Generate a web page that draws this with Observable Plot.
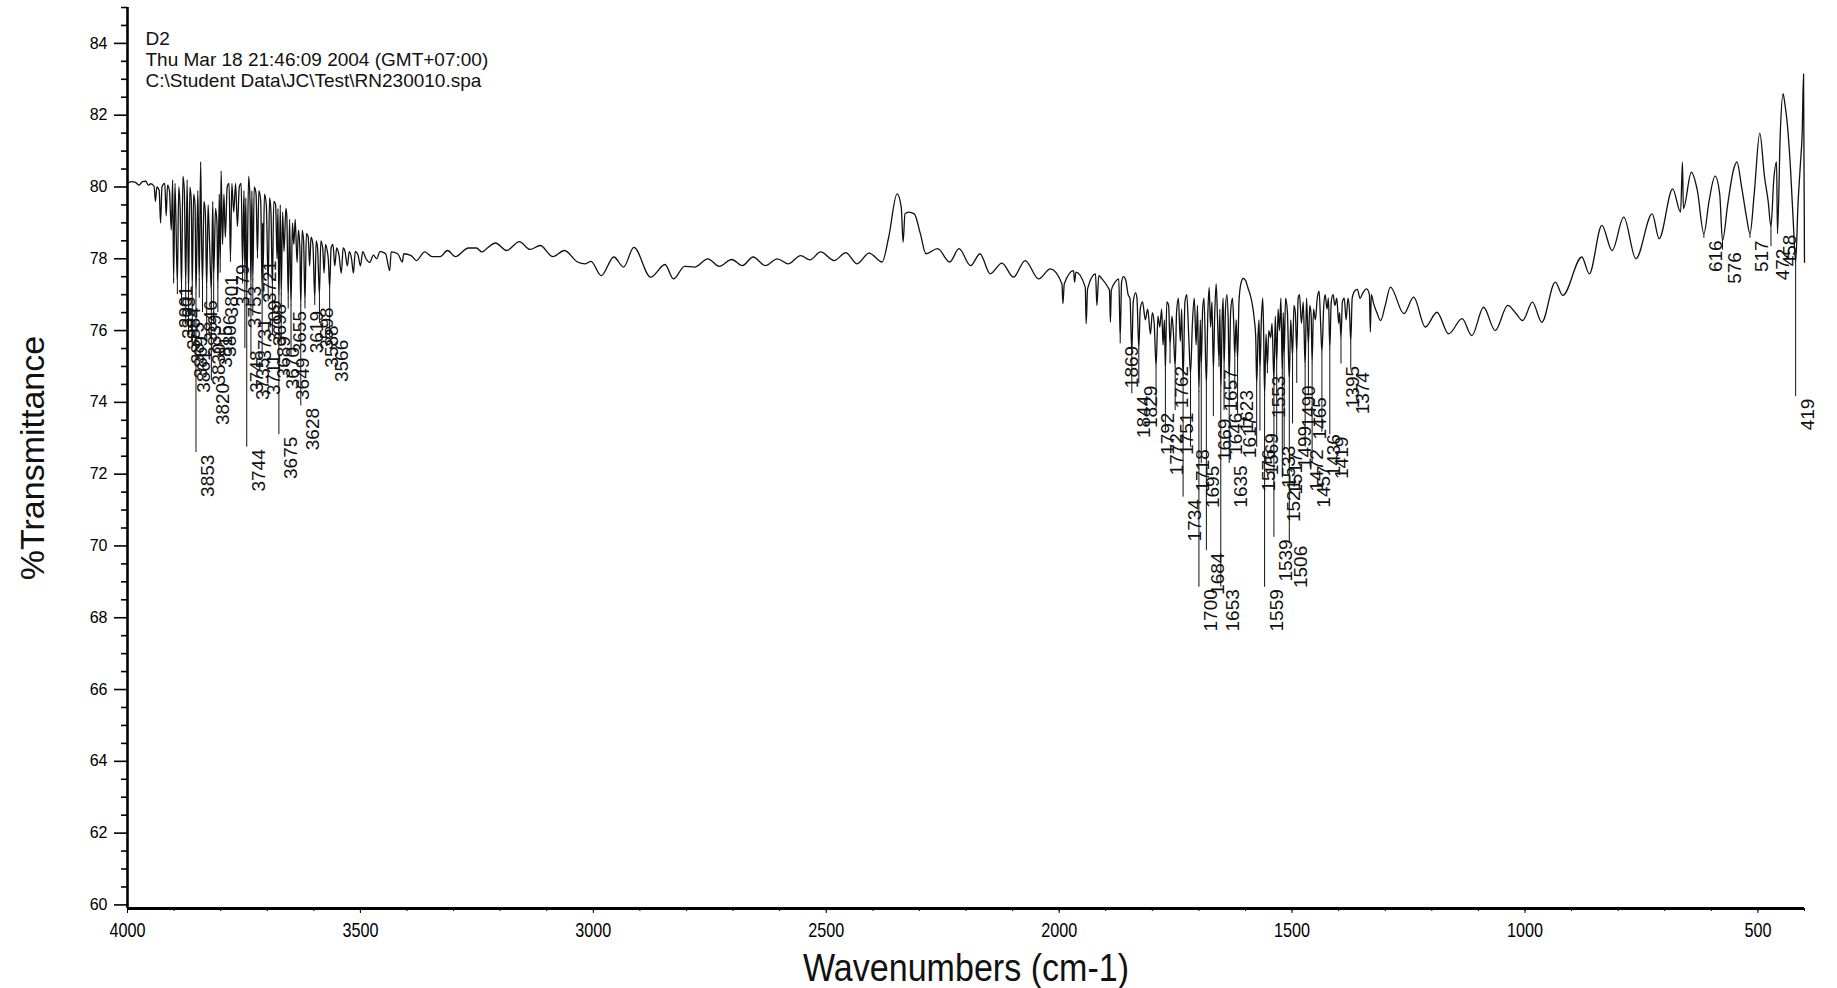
<!DOCTYPE html>
<html><head><meta charset="utf-8">
<script src="https://cdn.jsdelivr.net/npm/d3@7"></script>
<script src="https://cdn.jsdelivr.net/npm/@observablehq/plot@0.6"></script>
<style>html,body{margin:0;padding:0;background:#fff;}</style>
</head><body><div id="chart"></div>
<script>
// ---- Spectrum (wavenumber cm-1, %T) ----
const specWn = [4000,3992,3983,3975,3968,3961,3955,3950,3943,3940,3937,3932,3929,3926,3920,3917,3914,3910,3906,3903,3901,3898,3893,3890,3887,3884,3881,3878,3875,3872,3869,3866,3863,3861,3858,3855,3853,3849,3846,3843,3841,3839,3836,3833,3830,3827,3824,3820,3817,3815,3811,3808,3806,3803,3801,3799,3796,3793,3790,3786,3782,3779,3776,3772,3768,3764,3760,3756,3753,3750,3748,3746,3744,3740,3737,3735,3733,3731,3728,3724,3721,3718,3714,3711,3710,3709,3706,3702,3698,3695,3692,3689,3686,3682,3679,3677,3675,3672,3670,3667,3664,3660,3658,3655,3652,3649,3646,3643,3640,3636,3633,3630,3628,3625,3622,3619,3616,3612,3609,3606,3602,3598,3595,3592,3588,3585,3581,3578,3575,3571,3569,3566,3563,3559,3555,3551,3546,3541,3537,3533,3528,3524,3519,3515,3511,3505,3500,3495,3488,3480,3472,3465,3458,3453,3446,3437,3434,3420,3410,3407,3391,3380,3362,3346,3329,3313,3296,3268,3251,3239,3231,3210,3186,3159,3136,3114,3087,3062,3034,3017,3005,2983,2956,2935,2913,2877,2846,2828,2804,2783,2754,2730,2703,2680,2657,2631,2605,2582,2555,2535,2512,2483,2458,2434,2408,2380,2366,2348,2339,2335,2331,2323,2311,2298,2286,2261,2235,2215,2190,2170,2148,2123,2098,2073,2044,2019,1994,1992,1989,1969,1967,1964,1944,1942,1939,1922,1919,1915,1908,1895,1892,1890,1888,1880,1872,1869,1866,1862,1857,1852,1848,1844,1841,1836,1833,1829,1826,1821,1815,1810,1804,1800,1796,1792,1788,1784,1780,1777,1774,1772,1769,1765,1762,1758,1755,1751,1748,1744,1740,1737,1734,1730,1726,1722,1718,1714,1710,1706,1703,1700,1697,1695,1692,1689,1684,1681,1678,1675,1672,1669,1666,1663,1660,1657,1655,1653,1650,1648,1646,1643,1640,1637,1635,1632,1628,1625,1623,1620,1617,1614,1610,1605,1600,1595,1590,1585,1581,1578,1576,1573,1571,1569,1566,1563,1561,1559,1556,1553,1550,1546,1543,1539,1536,1533,1530,1527,1524,1521,1519,1517,1514,1510,1506,1503,1499,1496,1493,1490,1487,1484,1480,1476,1472,1469,1465,1462,1459,1457,1454,1450,1446,1442,1439,1436,1432,1429,1425,1422,1419,1416,1412,1408,1404,1400,1398,1395,1392,1388,1384,1380,1377,1374,1371,1366,1360,1354,1348,1340,1334,1332,1330,1325,1318,1310,1300,1289,1260,1239,1214,1189,1164,1135,1114,1089,1064,1037,1019,1005,984,964,935,919,878,862,835,813,788,762,727,712,683,666,662,660,643,630,616,605,592,582,576,565,552,545,535,525,517,508,496,486,478,472,466,460,458,452,446,442,438,430,424,419,414,409,405,402,400];
const specT = [80.1,80.15,80.13,80.05,80.15,80.16,80.05,80.09,80.02,79.6,80.0,79.9,79.0,80.0,80.1,79.2,80.05,79.9,78.8,80.2,77.4,80.1,77.3,80.0,79.4,77.2,80.3,79.9,77.3,80.2,77.1,80.0,79.6,77.2,79.8,79.5,77.0,79.9,77.4,80.7,78.6,77.3,79.6,79.3,77.2,79.5,78.5,77.1,79.6,77.5,79.4,79.0,77.2,79.8,77.8,80.45,78.4,79.8,78.6,80.0,80.1,78.0,80.1,79.3,80.1,78.9,80.0,80.1,77.8,79.9,77.6,79.7,77.0,80.3,79.6,77.2,79.9,77.4,80.0,79.8,78.1,79.9,79.6,77.1,79.0,77.6,79.8,79.5,77.3,79.7,79.3,77.2,79.6,79.5,78.0,79.4,76.8,79.5,77.0,79.3,78.2,79.4,79.2,76.9,79.1,76.7,79.0,78.4,79.1,77.9,78.8,78.3,76.7,78.8,78.5,76.8,78.7,78.6,77.8,78.6,78.4,76.9,78.5,78.3,77.0,78.5,78.3,77.6,78.4,78.2,78.0,77.2,78.3,78.4,77.8,78.3,78.1,77.6,78.3,78.2,77.8,78.2,78.0,77.6,78.2,78.1,77.8,78.2,78.0,77.9,78.1,78.0,78.2,78.19,78.14,77.67,78.19,78.14,77.91,78.14,78.09,77.95,78.19,78.06,78.06,78.23,78.06,78.3,78.3,78.19,78.26,78.44,78.23,78.48,78.26,78.37,78.06,78.23,77.91,77.86,77.93,77.53,78.05,77.77,78.32,77.49,77.84,77.44,77.79,77.77,78.0,77.79,77.98,77.81,78.05,77.81,78.0,77.86,78.09,77.97,78.19,77.95,78.17,77.86,78.16,77.91,78.6,79.81,79.44,78.46,79.25,79.3,79.25,78.7,78.14,78.28,77.91,78.28,77.81,78.14,77.58,77.88,77.49,77.95,77.44,77.72,77.3,76.75,77.3,77.67,77.35,77.63,77.21,76.19,77.16,77.58,76.7,77.53,77.44,77.2,77.12,76.24,77.12,77.35,77.44,75.8,77.35,77.5,77.4,77.0,76.9,75.4,76.8,77.05,76.9,75.5,76.6,76.8,76.3,76.6,75.9,76.5,76.2,75.0,76.4,76.1,76.6,75.6,76.3,74.9,76.8,76.7,75.6,76.4,76.0,75.0,76.5,76.9,75.7,76.6,74.6,76.8,77.0,75.9,74.8,76.2,76.9,75.6,76.7,74.3,76.3,75.0,76.6,76.9,74.5,76.4,77.2,76.1,76.8,74.9,76.5,77.3,76.3,75.2,76.6,74.3,76.4,76.9,75.0,76.6,77.0,76.2,74.6,76.5,76.9,76.1,75.3,76.3,75.2,76.8,77.3,77.45,77.4,77.2,77.0,76.7,76.3,75.8,74.5,75.9,76.3,74.9,76.3,76.9,75.9,74.2,75.9,75.0,76.0,75.8,76.2,74.6,76.4,75.1,76.6,76.0,76.9,74.8,76.5,75.3,76.9,76.5,74.6,76.3,75.3,76.7,76.5,75.4,76.9,77.0,76.2,76.8,75.0,76.9,75.6,76.7,76.4,75.1,76.6,76.3,76.9,77.1,76.3,75.4,76.7,77.0,76.6,76.9,75.5,76.8,77.0,76.7,76.9,76.2,76.5,75.8,76.8,76.9,76.3,76.9,76.6,75.7,76.9,77.1,77.15,76.9,77.05,77.16,77.0,75.96,77.0,76.75,76.5,76.28,76.7,77.21,76.47,76.93,76.1,76.51,75.91,76.33,75.86,76.65,76.0,76.7,76.47,76.28,76.79,76.23,77.35,76.98,78.05,77.58,78.93,78.23,79.16,78.0,79.25,78.56,79.95,79.3,80.69,79.4,80.41,79.9,78.7,79.6,80.3,79.8,78.5,79.5,80.5,80.7,80.0,79.2,78.7,79.8,81.5,80.3,79.6,78.9,80.2,80.7,78.7,81.5,82.6,82.3,81.9,80.5,79.0,77.9,79.5,80.6,81.5,83.15,77.9];

// ---- Peak labels: wavenumber and %T level where each label starts ----
const peakWn = [3901,3893,3884,3875,3869,3861,3853,3846,3839,3830,3820,3815,3806,3801,3779,3753,3748,3744,3735,3731,3721,3711,3709,3698,3689,3675,3670,3655,3649,3628,3619,3598,3588,3566,
  1869,1844,1829,1792,1772,1762,1751,1734,1718,1700,1695,1684,1669,1657,1653,1646,1635,1623,1617,1576,1569,1559,1553,1539,1533,1521,1517,1506,1499,1490,1472,1465,1457,1436,1419,1395,1374,
  616,576,517,472,458,419];
const peakLabelT = [77.3,77.0,76.7,76.3,75.9,75.5,72.6,76.9,76.5,75.7,74.6,76.2,76.5,77.6,77.9,77.3,75.5,72.75,75.3,76.4,78.0,75.4,76.9,76.8,75.9,73.1,75.6,76.6,75.3,73.9,76.6,76.7,76.2,75.8,
  75.63,74.24,74.52,73.77,73.2,75.07,73.77,71.36,72.75,68.85,72.29,69.87,73.6,74.98,68.85,73.77,72.3,74.4,73.68,72.75,73.2,68.85,74.8,70.24,72.85,71.9,72.66,70.06,73.4,74.53,72.75,74.2,72.3,73.17,73.1,75.07,74.9,
  78.57,78.24,78.57,78.34,78.73,74.16];

const headerLines = ["D2", "Thu Mar 18 21:46:09 2004 (GMT+07:00)", "C:\\Student Data\\JC\\Test\\RN230010.spa"];
const xTicks = [4000,3500,3000,2500,2000,1500,1000,500];
const yTicks = [60,62,64,66,68,70,72,74,76,78,80,82,84];
const xTitle = "Wavenumbers (cm-1)";
const yTitle = "%Transmittance";

// ---- build tables ----
const spectrum = specWn.map((w, i) => ({wn: w, t: specT[i]}));
function spectrumAt(w) {
  let best = spectrum[0];
  for (const d of spectrum) if (Math.abs(d.wn - w) < Math.abs(best.wn - w)) best = d;
  return best.t;
}
const peaks = peakWn.map((w, i) => ({wn: w, label: String(w), top: peakLabelT[i], min: spectrumAt(w)}));
const xMinor = d3.range(4000, 399, -100);
const yMinor = d3.range(60, 85.01, 0.5).filter(v => v % 2 !== 0);

const sans = "'Liberation Sans', Arial, Helvetica, sans-serif";

const chart = Plot.plot({
  width: 1837, height: 988,
  marginLeft: 127, marginRight: 33, marginTop: 7, marginBottom: 80,
  style: {fontFamily: sans, background: "#fff", color: "#000", overflow: "visible"},
  x: {domain: [4000, 400], label: null},
  y: {domain: [59.9, 85], label: null},
  marks: [
    Plot.axisY({ticks: yMinor, tickSize: 6, tickFormat: () => "", label: null, strokeWidth: 1.6}),
    Plot.axisY({ticks: yTicks, tickSize: 13, tickPadding: 7, fontSize: 16, label: null, strokeWidth: 1.6}),
    Plot.axisX({ticks: xMinor, tickSize: 3, tickFormat: () => "", label: null, strokeWidth: 1}),
    Plot.axisX({ticks: xTicks, tickSize: 5, tickPadding: 9, fontSize: 21, label: null, tickFormat: d => String(d)}),
    Plot.ruleX([4000], {stroke: "#000", strokeWidth: 2.6}),
    Plot.ruleY([59.9], {stroke: "#000", strokeWidth: 3}),
    Plot.line(spectrum, {x: "wn", y: "t", stroke: "#111", strokeWidth: 1.3, curve: "monotone-x"}),
    Plot.ruleX(peaks.filter(d => d.top < d.min), {x: "wn", y1: "min", y2: "top", stroke: "#111", strokeWidth: 1}),
    Plot.text(peaks, {x: "wn", y: "top", text: "label", rotate: -90, textAnchor: "end", dx: 12, dy: 2, fontSize: 19, fill: "#111"}),
    Plot.text([headerLines.join("\n")], {frameAnchor: "top-left", dx: 18, dy: 23, textAnchor: "start", lineAnchor: "top", lineHeight: 1.1, fontSize: 19, fill: "#111"}),
    Plot.text([yTitle], {frameAnchor: "left", dx: -94, rotate: -90, textAnchor: "middle", lineAnchor: "middle", fontSize: 34, fill: "#111"}),
    Plot.text([xTitle], {frameAnchor: "bottom", dy: 60, textAnchor: "middle", lineAnchor: "middle", fontSize: 38, fill: "#111"})
  ]
});
document.getElementById("chart").appendChild(chart);

// condensed look of the original's axis typography
d3.select(chart).selectAll('g[aria-label="x-axis tick label"] text')
  .filter(function () { return this.textContent.trim() !== ""; })
  .each(function () {
    const n = this.textContent.trim().length;
    d3.select(this).attr("textLength", 9 * n).attr("lengthAdjust", "spacingAndGlyphs");
  });
d3.select(chart).selectAll("text")
  .filter(function () { return this.textContent === xTitle; })
  .attr("textLength", 326).attr("lengthAdjust", "spacingAndGlyphs");
</script>
</body></html>
